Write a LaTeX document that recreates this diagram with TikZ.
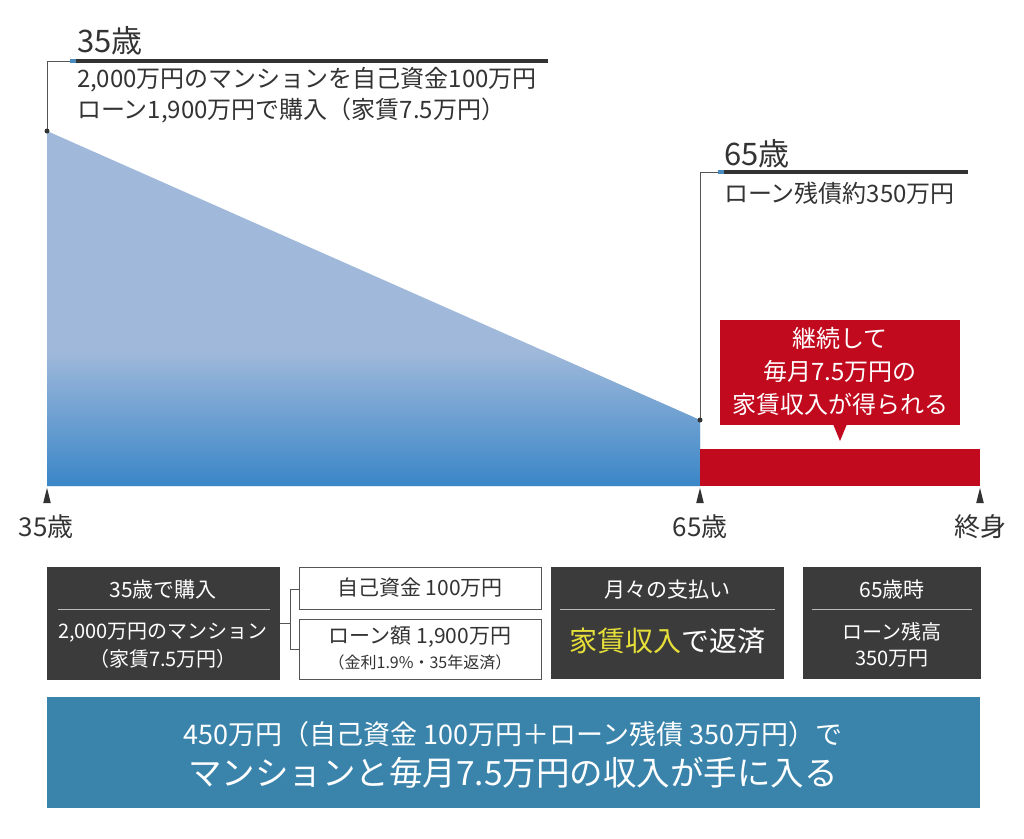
\documentclass[tikz,border=0pt]{standalone}
\usepackage{fontspec}
\setmainfont{Noto Sans CJK JP}
\definecolor{darkbox}{HTML}{3B3B3B}
\definecolor{barcol}{HTML}{333333}
\definecolor{leadcol}{HTML}{555555}
\definecolor{redcol}{HTML}{C10A1E}
\definecolor{tealcol}{HTML}{3A84AB}
\definecolor{blueacc}{HTML}{4A8CC0}
\definecolor{yellowtxt}{HTML}{E6DF3A}
\definecolor{txtcol}{HTML}{333333}
\definecolor{sepcol}{HTML}{BBBBBB}
\definecolor{lightblue}{HTML}{A0B9DA}
\definecolor{deepblue}{HTML}{3A86C7}
\newcommand{\fs}[1]{\fontsize{#1}{#1}\selectfont}
\begin{document}
\begin{tikzpicture}[x=1pt,y=-1pt,
  every node/.style={inner sep=0pt, outer sep=0pt},
  darkrect/.style={fill=darkbox, draw=none, rectangle, anchor=north west},
  whiterect/.style={fill=white, draw=leadcol, line width=0.8pt, rectangle, anchor=north west},
  lbl/.style={text=txtcol},
  wlbl/.style={text=white},
  leader/.style={draw=leadcol, line width=0.9pt},
  thickbar/.style={draw=barcol, line width=4pt},
  tickmark/.style={fill=barcol, draw=none},
  sepline/.style={draw=sepcol, line width=0.9pt}
]
\useasboundingbox (0,0) rectangle (1024,838);

% ---------- chart ----------
\fill[lightblue] (47,131) -- (700,420) -- (700,486) -- (47,486) -- cycle;
\begin{scope}
  \clip (47,131) -- (700,420) -- (700,486) -- (47,486) -- cycle;
  \shade[top color=lightblue, bottom color=deepblue] (40,350) rectangle (710,486);
\end{scope}
\fill[redcol] (700,449) rectangle (980,486);

% leader 35
\coordinate (d35) at (47,131);
\coordinate (k35) at (47,61);
\coordinate (b35s) at (70,61);
\coordinate (b35e) at (548,61);
\draw[leader] (d35) -- (k35) -- (b35s);
\draw[thickbar] (b35s) -- (b35e);
\draw[draw=blueacc, line width=4pt] (b35s) -- ++(6,0);
\fill[barcol] (d35) circle (2.5);
\node[lbl, anchor=west, font=\fs{31}] (t35) at (77,41) {35歳};
\node[lbl, anchor=west, font=\fs{24}] (t35a) at (77,80) {2,000万円のマンションを自己資金100万円};
\node[lbl, anchor=west, font=\fs{24}] (t35b) at (77,111) {ローン1,900万円で購入（家賃7.5万円）};

% leader 65
\coordinate (d65) at (700,420);
\coordinate (k65) at (700,172);
\coordinate (b65s) at (718,172);
\coordinate (b65e) at (968,172);
\draw[leader] (d65) -- (k65) -- (b65s);
\draw[thickbar] (b65s) -- (b65e);
\draw[draw=blueacc, line width=4pt] (b65s) -- ++(6,0);
\fill[barcol] (d65) circle (2.5);
\node[lbl, anchor=west, font=\fs{31}] (t65) at (724,154) {65歳};
\node[lbl, anchor=west, font=\fs{24}] (t65a) at (724,193) {ローン残債約350万円};

% callout
\fill[redcol] (720,320) rectangle (960,425);
\fill[redcol] (833,424) -- (847,424) -- (840,441) -- cycle;
\node[wlbl, font=\fs{24}] (c1) at (840,338) {継続して};
\node[wlbl, font=\fs{24}] (c2) at (840,371) {毎月7.5万円の};
\node[wlbl, font=\fs{24}] (c3) at (840,404) {家賃収入が得られる};

% ticks
\foreach \x in {47,700,980} {
  \fill[tickmark] (\x,488) -- (\x+3.8,503) -- (\x-3.8,503) -- cycle;
}
\node[lbl, font=\fs{26}] (a35) at (46,527) {35歳};
\node[lbl, font=\fs{26}] (a65) at (700,527) {65歳};
\node[lbl, font=\fs{26}] (aend) at (980,527) {終身};

% ---------- boxes ----------
\node[darkrect, minimum width=233pt, minimum height=113pt] (b1) at (47,567) {};
\node[wlbl, font=\fs{21}] (b1t) at (163,590) {35歳で購入};
\draw[sepline] (58,609) -- (270,609);
\node[wlbl, font=\fs{20}] (b1a) at (163,633) {2,000万円のマンション};
\node[wlbl, font=\fs{20}] (b1b) at (163,659) {（家賃7.5万円）};

\node[whiterect, minimum width=242pt, minimum height=42pt] (b2) at (299,567) {};
\node[lbl, font=\fs{21}] (b2t) at (420,588) {自己資金 100万円};
\node[whiterect, minimum width=242pt, minimum height=60pt] (b3) at (299,619) {};
\node[lbl, font=\fs{21}] (b3t) at (420,637) {ローン額 1,900万円};
\node[lbl, font=\fs{16}] (b3s) at (420,662) {（金利1.9\%・35年返済）};

% bracket
\coordinate (brm) at (290,623);
\draw[leader] (b1.east |- brm) -- (brm);
\draw[leader] (b2.west |- 0,589) -- (290,589) -- (290,649) -- (b3.west |- 0,649);

\node[darkrect, minimum width=233pt, minimum height=112pt] (b4) at (551,567) {};
\node[wlbl, font=\fs{21}] (b4t) at (667,590) {月々の支払い};
\draw[sepline] (560,609) -- (775,609);
\node[font=\fs{28}] (b4a) at (667,641) {\textcolor{yellowtxt}{家賃収入}\textcolor{white}{で返済}};

\node[darkrect, minimum width=178pt, minimum height=112pt] (b5) at (803,567) {};
\node[wlbl, font=\fs{21}] (b5t) at (892,590) {65歳時};
\draw[sepline] (812,609) -- (972,609);
\node[wlbl, font=\fs{20}] (b5a) at (892,632) {ローン残高};
\node[wlbl, font=\fs{20}] (b5b) at (892,659) {350万円};

% bottom banner
\node[fill=tealcol, rectangle, anchor=north west, minimum width=933pt, minimum height=111pt] (bb) at (47,697) {};
\node[wlbl, font=\fs{27}] (bb1) at (513,734) {450万円（自己資金 100万円＋ローン残債 350万円）で};
\node[wlbl, font=\fs{33.5}] (bb2) at (513,773) {マンションと毎月7.5万円の収入が手に入る};
\end{tikzpicture}
\end{document}
